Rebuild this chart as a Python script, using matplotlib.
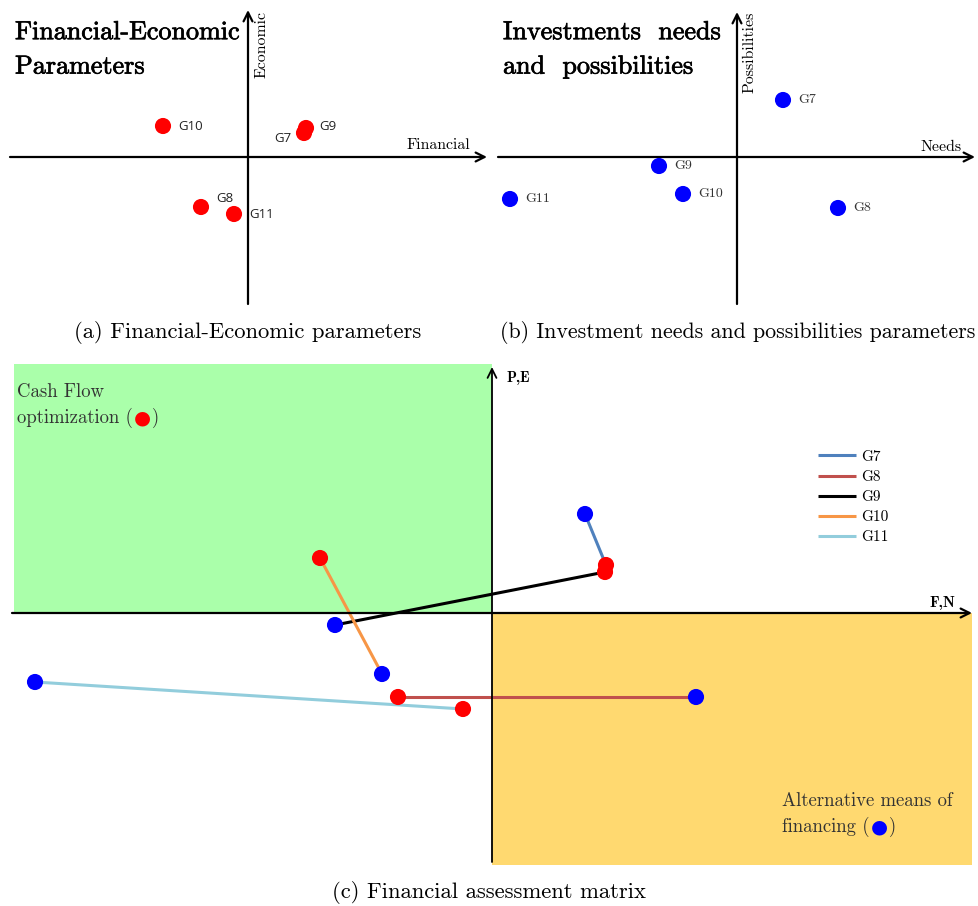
import matplotlib.pyplot as plt
import matplotlib.patheffects as pe

W, H = 979, 906
S = 10.0  # pixels per data unit in every panel

groups = ["G7", "G8", "G9", "G10", "G11"]

# (a) financial / economic scores
fin = [5.6, -4.7, 5.8, -8.5, -1.4]
eco = [2.4, -5.0, 2.9, 3.1, -5.7]

# (b) investment needs / possibilities
needs = [4.6, 10.1, -7.8, -5.4, -22.7]
poss = [5.7, -5.1, -0.9, -3.7, -4.2]

# (c) assessment matrix: red = F,E position, blue = N,P position
fe_x = [11.4, -9.4, 11.3, -17.2, -2.9]
fe_y = [4.8, -8.4, 4.1, 5.5, -9.6]
np_x = [9.3, 20.4, -15.7, -11.0, -45.7]
np_y = [9.9, -8.4, -1.2, -6.1, -6.9]

line_colors = ["#4f81bd", "#c0504d", "#000000", "#f79646", "#92cddc"]

CM = "cmr10"
CMB = "cmb10"
RED = "#ff0000"
BLUE = "#0000ff"
DOT = 135

fig = plt.figure(figsize=(W / 100, H / 100), dpi=100)


def panel(x0, x1, y0, y1, ox, oy):
    ax = fig.add_axes([x0 / W, 1 - y1 / H, (x1 - x0) / W, (y1 - y0) / H])
    ax.set_xlim((x0 - ox) / S, (x1 - ox) / S)
    ax.set_ylim((oy - y1) / S, (oy - y0) / S)
    ax.axis("off")
    return ax


def arrow(ax, x0, y0, x1, y1, lw=1.6):
    ax.annotate("", xy=(x1, y1), xytext=(x0, y0),
                arrowprops=dict(arrowstyle="->", lw=lw, color="black",
                                mutation_scale=16, shrinkA=0, shrinkB=0))


heavy = [pe.withStroke(linewidth=0.5, foreground="black")]
title_kw = dict(ha="left", va="center", fontsize=18.8, family=CM,
                linespacing=1.57, path_effects=heavy)
axlab = dict(fontsize=11.4, family=CM)

# ---------------- (a) ----------------
ax1 = panel(0, 490, 0, 310, 248, 157)
arrow(ax1, -23.8, 0, 23.9, 0)
arrow(ax1, 0, -14.7, 0, 14.7)
ax1.text(1.4, 11.3, "Economic", rotation=90, ha="center", va="center", **axlab)
ax1.text(19.0, 0.5, "Financial", ha="center", va="bottom", **axlab)
ax1.text(-23.3, 10.75, "Financial-Economic\nParameters", **title_kw)
ax1.scatter(fin, eco, s=DOT, color=RED, zorder=3, edgecolors="none")
offs_a = {"G7": (-12, -5, "right"), "G8": (15, 8, "left"), "G9": (13, 1, "left"),
          "G10": (15, 0, "left"), "G11": (15, -1, "left")}
for g, x, y in zip(groups, fin, eco):
    dx, dy, ha = offs_a[g]
    ax1.annotate(g, (x, y), xytext=(dx, dy), textcoords="offset pixels",
                 ha=ha, va="center", fontsize=9.5, family="Open Sans", color="#222222")

# ---------------- (b) ----------------
ax2 = panel(495, 979, 0, 310, 737, 157)
arrow(ax2, -23.9, 0, 23.8, 0)
arrow(ax2, 0, -14.7, 0, 14.5)
ax2.text(1.3, 10.5, "Possibilities", rotation=90, ha="center", va="center", **axlab)
ax2.text(20.4, 0.3, "Needs", ha="center", va="bottom", **axlab)
ax2.text(-23.4, 10.75, "Investments  needs\nand  possibilities", **title_kw)
ax2.scatter(needs, poss, s=DOT, color=BLUE, zorder=3, edgecolors="none")
for g, x, y in zip(groups, needs, poss):
    ax2.annotate(g, (x, y), xytext=(15, 0), textcoords="offset pixels",
                 ha="left", va="center", fontsize=10, family=CM, color="#333333")

# ---------------- (c) ----------------
ax3 = panel(10, 979, 360, 870, 492, 613)
ax3.fill_between([-47.8, 0], 0, 24.9, color="#aaffaa", lw=0, zorder=0)
ax3.fill_between([0, 48.0], -25.2, 0, color="#ffd970", lw=0, zorder=0)
arrow(ax3, -48.0, 0, 48.0, 0, lw=1.6)
arrow(ax3, 0, -24.9, 0, 24.6, lw=1.3)
ax3.text(1.4, 23.5, "P,E", ha="left", va="center", fontsize=10.5, family=CMB)
ax3.text(45.0, 0.3, "F,N", ha="center", va="bottom", fontsize=11, family=CMB)

for g, c, x0, y0, x1, y1 in zip(groups, line_colors, fe_x, fe_y, np_x, np_y):
    ax3.plot([x0, x1], [y0, y1], color=c, lw=2.2, label=g, zorder=2,
             solid_capstyle="butt")
ax3.scatter(fe_x, fe_y, s=DOT, color=RED, zorder=3, edgecolors="none")
ax3.scatter(np_x, np_y, s=DOT, color=BLUE, zorder=3, edgecolors="none")

leg = ax3.legend(loc="upper left", bbox_to_anchor=(818 / W, 1 - 450 / H),
                 bbox_transform=fig.transFigure, frameon=False, borderpad=0,
                 borderaxespad=0, handlelength=2.5, handletextpad=0.3,
                 labelspacing=0.42, prop=dict(family=CM, size=11))

txt_kw = dict(fontsize=13.5, family=CM, color="#333333")


def key_text(x, y, first, second, dot_color):
    ax3.text(x, y, first, ha="left", va="baseline", **txt_kw)
    t1 = ax3.text(x, y - 2.6, second, ha="left", va="baseline", **txt_kw)
    dot = ax3.annotate("\u25cf", xy=(1, 0.5), xycoords=t1, xytext=(1, 0),
                       textcoords="offset pixels", ha="left", va="center",
                       fontsize=14, family="DejaVu Sans", color=dot_color)
    ax3.annotate(")", xy=(1, 0), xycoords=(dot, t1), xytext=(1, 0),
                 textcoords="offset pixels", ha="left", va="bottom", **txt_kw)


key_text(-47.5, 21.6, "Cash Flow", "optimization (", RED)
key_text(29.0, -19.3, "Alternative means of", "financing (", BLUE)

# captions
cap = dict(family=CM, ha="center", va="center")
fig.text(248 / W, 1 - 333 / H, "(a) Financial-Economic parameters", fontsize=16.3, **cap)
fig.text(737.5 / W, 1 - 333 / H, "(b) Investment needs and possibilities parameters",
         fontsize=15.8, **cap)
fig.text(489 / W, 1 - 893 / H, "(c) Financial assessment matrix", fontsize=16.3, **cap)

fig.savefig("out.png", dpi=100, facecolor="white")
